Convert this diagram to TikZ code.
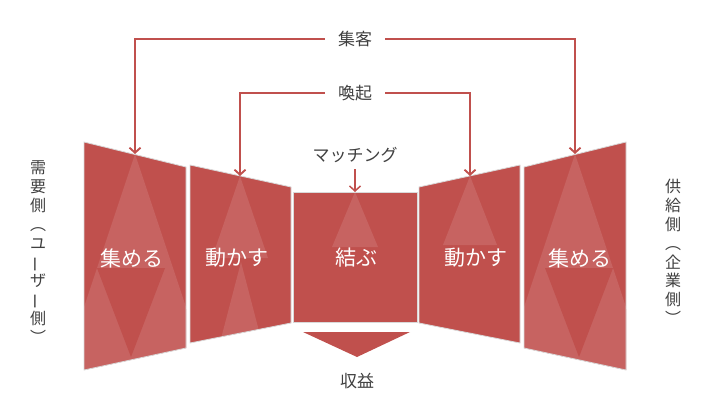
\documentclass[tikz,border=0pt]{standalone}
\usepackage{fontspec}
\setmainfont{Noto Sans CJK JP}
\usetikzlibrary{arrows.meta}
\definecolor{rdark}{RGB}{192,80,77}
\definecolor{rlight}{RGB}{199,99,97}
\definecolor{lbl}{RGB}{64,64,64}
\tikzset{
  panel/.style={draw=black!15, line width=0.8pt},
  shine/.style={fill=rlight},
  ptext/.style={text=white, font=\fontsize{21}{24}\selectfont, inner sep=0pt},
  ltext/.style={text=lbl, font=\fontsize{17}{20}\selectfont, inner sep=0pt, minimum width=60pt, minimum height=18pt},
  vtext/.style={text=lbl, font=\fontsize{16}{18.8}\selectfont, align=center, inner sep=0pt},
  arr/.style={draw=rdark, line width=1.9pt, -{Straight Barb[length=5pt,width=11pt]}},
}
\newcommand{\vbar}{\smash{\rotatebox[origin=c]{90}{ー}}}
\begin{document}
\begin{tikzpicture}[x=1pt,y=-1pt]
\useasboundingbox (0,0) rectangle (714,401);

% panel 1
\fill[rdark] (84,142) -- (186,167) -- (186,348) -- (84,370) -- cycle;
\begin{scope}
  \clip (84,142) -- (186,167) -- (186,348) -- (84,370) -- cycle;
  \fill[shine] (135,154) -- (53,400) -- (217,400) -- cycle;
  \fill[rdark] (97,268) -- (165,268) -- (131,357) -- cycle;
\end{scope}
\draw[panel] (84,142) -- (186,167) -- (186,348) -- (84,370) -- cycle;

% panel 2
\fill[rdark] (190,165) -- (291,187) -- (291,323) -- (190,343) -- cycle;
\begin{scope}
  \clip (190,165) -- (291,187) -- (291,323) -- (190,343) -- cycle;
  \fill[shine] (240,176) -- (212,258) -- (268,258) -- cycle;
  \fill[shine] (241,262) -- (205,400) -- (277,400) -- cycle;
\end{scope}
\draw[panel] (190,165) -- (291,187) -- (291,323) -- (190,343) -- cycle;

% panel 3
\fill[rdark] (293,192) rectangle (417,322);
\fill[shine] (355,192) -- (332,247) -- (378,247) -- cycle;
\draw[panel] (293,192) rectangle (417,322);

% panel 4
\fill[rdark] (419,187) -- (520,165) -- (520,343) -- (419,323) -- cycle;
\fill[shine] (470,176) -- (443,245) -- (497,245) -- cycle;
\draw[panel] (419,187) -- (520,165) -- (520,343) -- (419,323) -- cycle;

% panel 5
\fill[rdark] (524,167) -- (626,142) -- (626,370) -- (524,348) -- cycle;
\begin{scope}
  \clip (524,167) -- (626,142) -- (626,370) -- (524,348) -- cycle;
  \fill[shine] (575,154) -- (493,400) -- (657,400) -- cycle;
  \fill[rdark] (545,268) -- (613,268) -- (579,357) -- cycle;
\end{scope}
\draw[panel] (524,167) -- (626,142) -- (626,370) -- (524,348) -- cycle;

% revenue chevron
\fill[rdark] (303,332) -- (410,332) -- (357,357) -- cycle;

% panel texts
\node[ptext] (t1) at (132,258) {集める};
\node[ptext] (t2) at (237,258) {動かす};
\node[ptext] (t3) at (356,258) {結ぶ};
\node[ptext] (t4) at (476,258) {動かす};
\node[ptext] (t5) at (580,258) {集める};

% apex coordinates
\coordinate (ap1) at (135,154);
\coordinate (ap2) at (240,176);
\coordinate (ap3) at (355,192);
\coordinate (ap4) at (470,176);
\coordinate (ap5) at (575,154);

% labels
\node[ltext] (shk) at (355,39) {集客};
\node[ltext] (kan) at (355,93) {喚起};
\node[ltext, minimum width=0pt] (mat) at (355,155) {マッチング};
\node[ltext] (rev) at (357,381) {収益};

% connectors
\draw[arr] (shk.west) -| (ap1);
\draw[arr] (shk.east) -| (ap5);
\draw[arr] (kan.west) -| (ap2);
\draw[arr] (kan.east) -| (ap4);
\draw[arr, line width=1.5pt] ([yshift=-5pt]mat.south) -- (ap3);

% side texts
\node[vtext] (lside) at (38,252) {需\\要\\側\\︵\\ユ\\\vbar\\ザ\\\vbar\\側\\︶};
\node[vtext] (rside) at (673,252) {供\\給\\側\\︵\\企\\業\\側\\︶};
\end{tikzpicture}
\end{document}
